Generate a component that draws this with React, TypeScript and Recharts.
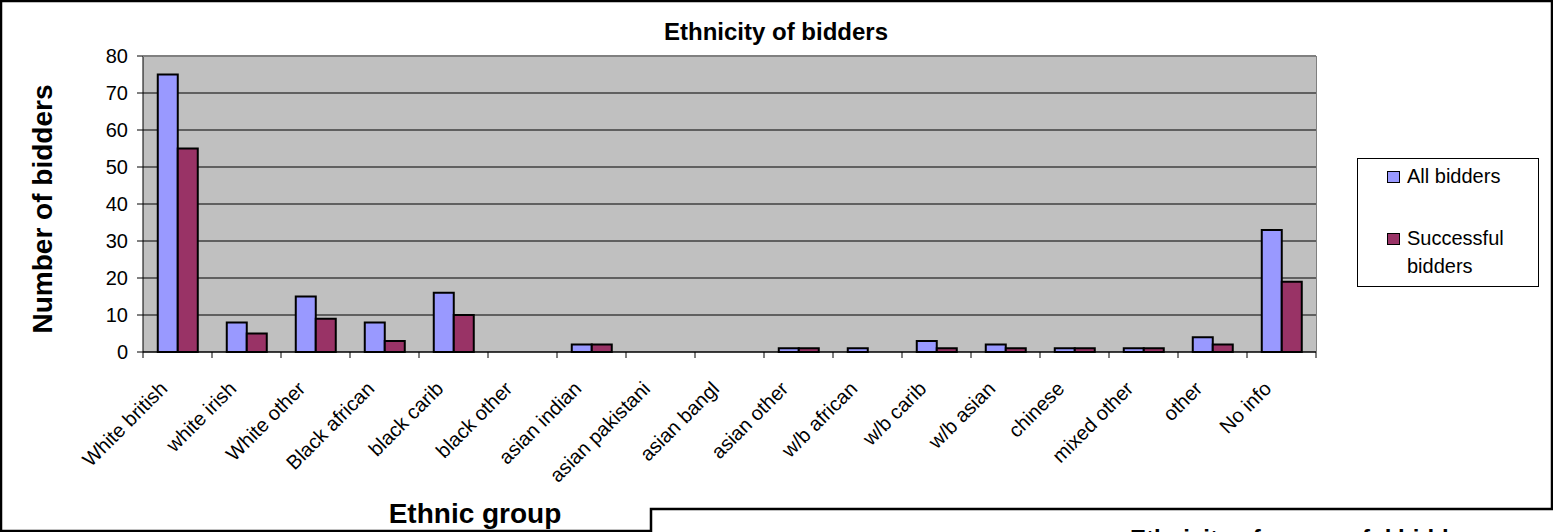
import React from 'react';
import { BarChart, Bar, XAxis, YAxis, CartesianGrid, Legend } from 'recharts';

const categories = [
  'White british', 'white irish', 'White other', 'Black african', 'black carib',
  'black other', 'asian indian', 'asian pakistani', 'asian bangl', 'asian other',
  'w/b african', 'w/b carib', 'w/b asian', 'chinese', 'mixed other', 'other', 'No info',
];
const allBidders = [75, 8, 15, 8, 16, 0, 2, 0, 0, 1, 1, 3, 2, 1, 1, 4, 33];
const successfulBidders = [55, 5, 9, 3, 10, 0, 2, 0, 0, 1, 0, 1, 1, 1, 1, 2, 19];
const yTicks = [0, 10, 20, 30, 40, 50, 60, 70, 80];
const seriesNames = ['All bidders', 'Successful bidders'];
const chartTitle = 'Ethnicity of bidders';
const xTitle = 'Ethnic group';
const yTitle = 'Number of bidders';
const nextChartTitle = 'Ethnicity of successful bidders';

const data = categories.map((name, i) => ({
  name,
  all: allBidders[i],
  successful: successfulBidders[i],
}));

const W = 1553;
const H = 532;
const PLOT_LEFT = 143;
const PLOT_TOP = 56;
const PLOT_RIGHT = 1316;
const PLOT_BOTTOM = 352;
const FONT = "'Liberation Sans', Arial, Helvetica, sans-serif";
const BAND = (PLOT_RIGHT - PLOT_LEFT) / categories.length;

const XTick = (props: any) => {
  const { x, y, payload, index } = props;
  const left = x - BAND / 2;
  const right = x + BAND / 2;
  return (
    <g>
      <line x1={left} y1={y} x2={left} y2={y + 6} stroke="#000" strokeWidth={1} />
      {index === categories.length - 1 && (
        <line x1={right} y1={y} x2={right} y2={y + 6} stroke="#000" strokeWidth={1} />
      )}
      <text
        transform={`translate(${x - 9},${y + 38}) rotate(-45)`}
        textAnchor="end"
        fontSize={20}
        fontFamily={FONT}
        fill="#000"
      >
        {payload.value}
      </text>
    </g>
  );
};

const LegendBox = (props: any) => {
  const payload = (props.payload || []) as any[];
  return (
    <div
      style={{
        boxSizing: 'border-box',
        width: 182,
        height: 129,
        border: '1px solid #000',
        background: '#fff',
        paddingTop: 3,
        fontFamily: FONT,
        fontSize: 20,
        lineHeight: '28px',
        color: '#000',
      }}
    >
      {payload.map((p: any, i: number) => (
        <div
          key={i}
          style={{ display: 'flex', alignItems: 'flex-start', marginTop: i === 0 ? 0 : 34, paddingLeft: 29 }}
        >
          <span
            style={{
              display: 'inline-block',
              width: 11,
              height: 10,
              border: '1px solid #000',
              background: p.color,
              marginTop: 9,
              marginRight: 7,
              flex: '0 0 auto',
            }}
          />
          <span style={{ width: 130 }}>{p.value}</span>
        </div>
      ))}
    </div>
  );
};

export default function App() {
  return (
    <div style={{ position: 'absolute', left: 0, top: 0, width: W, height: H, overflow: 'hidden', background: '#fff' }}>
      <BarChart
        width={W}
        height={H}
        data={data}
        margin={{ top: PLOT_TOP, left: 0, right: W - PLOT_RIGHT, bottom: 0 }}
        barCategoryGap="21.4%"
        barGap={0}
      >
        <CartesianGrid vertical={false} stroke="#000" fill="#C0C0C0" fillOpacity={1} />
        <XAxis
          dataKey="name"
          interval={0}
          height={H - PLOT_BOTTOM}
          tickSize={0}
          tickMargin={0}
          tickLine={false}
          axisLine={{ stroke: '#000', strokeWidth: 1 }}
          tick={(p: any) => <XTick {...p} />}
          label={{
            content: () => (
              <text x={475} y={523} textAnchor="middle" fontSize={28} fontWeight="bold" fontFamily={FONT} fill="#000">
                {xTitle}
              </text>
            ),
          }}
        />
        <YAxis
          width={PLOT_LEFT}
          domain={[0, 80]}
          ticks={yTicks}
          interval={0}
          tickSize={6}
          tickMargin={9}
          axisLine={{ stroke: '#000', strokeWidth: 1 }}
          tickLine={{ stroke: '#000' }}
          tick={{ fill: '#000', fontSize: 20, fontFamily: FONT }}
          label={{
            content: () => (
              <text
                x={52}
                y={209}
                transform="rotate(-90, 52, 209)"
                textAnchor="middle"
                fontSize={28}
                fontWeight="bold"
                fontFamily={FONT}
                fill="#000"
              >
                {yTitle}
              </text>
            ),
          }}
        />
        <Legend
          layout="vertical"
          align="center"
          verticalAlign="middle"
          wrapperStyle={{ left: 1357, top: 158, width: 182, height: 129 }}
          content={(p: any) => <LegendBox {...p} />}
        />
        <Bar dataKey="all" name={seriesNames[0]} fill="#9999FF" stroke="#000" strokeWidth={2} isAnimationActive={false} />
        <Bar dataKey="successful" name={seriesNames[1]} fill="#993366" stroke="#000" strokeWidth={2} isAnimationActive={false} />
      </BarChart>
      <svg width={W} height={H} style={{ position: 'absolute', left: 0, top: 0, pointerEvents: 'none' }}>
        <line x1={PLOT_LEFT} y1={PLOT_TOP + 0.5} x2={PLOT_RIGHT + 0.5} y2={PLOT_TOP + 0.5} stroke="#808080" strokeWidth={1} />
        <line x1={PLOT_RIGHT + 0.5} y1={PLOT_TOP} x2={PLOT_RIGHT + 0.5} y2={PLOT_BOTTOM} stroke="#808080" strokeWidth={1} />
        <text x={776} y={40} textAnchor="middle" fontSize={24} fontWeight="bold" fontFamily={FONT} fill="#000">
          {chartTitle}
        </text>
        <rect x={1} y={1} width={W - 2} height={H - 2} fill="none" stroke="#000" strokeWidth={2.5} />
        <rect x={651} y={509} width={1200} height={200} fill="#fff" stroke="#000" strokeWidth={2.5} />
        <text x={1130} y={547} fontSize={24} fontWeight="bold" fontFamily={FONT} fill="#000">
          {nextChartTitle}
        </text>
      </svg>
    </div>
  );
}
